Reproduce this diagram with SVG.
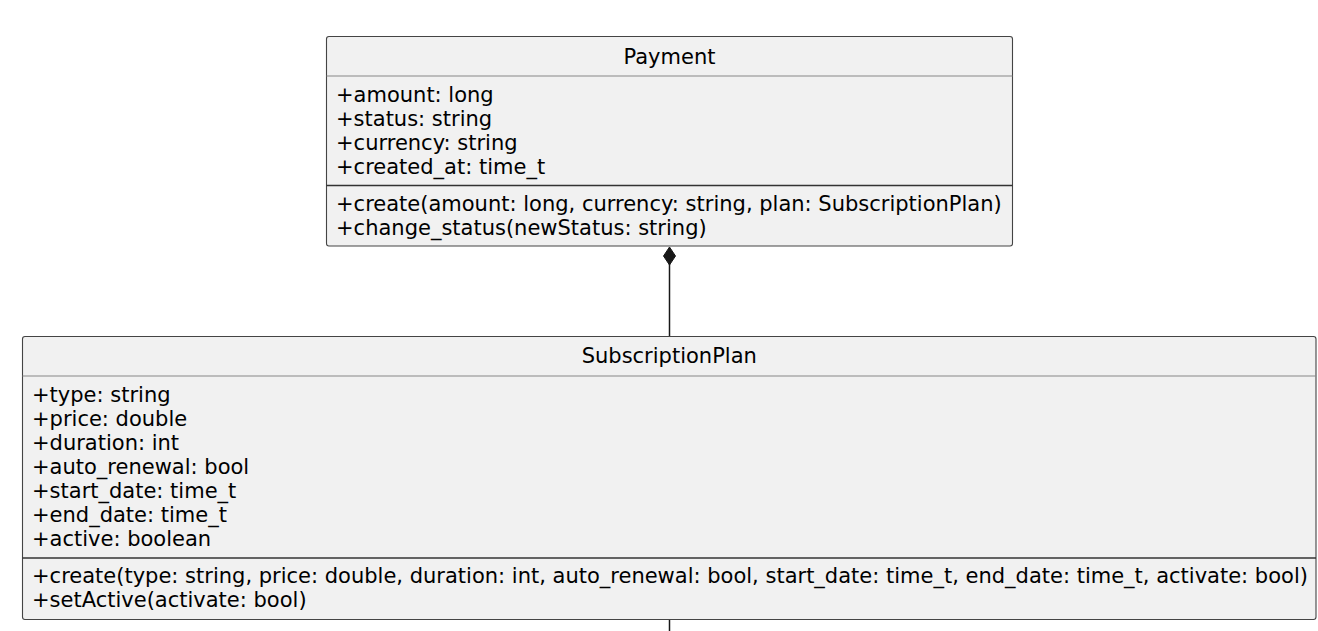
<svg xmlns="http://www.w3.org/2000/svg" width="1318" height="631" viewBox="0 0 1318 631">
<style>
.box{fill:#F1F1F1;stroke:#444;stroke-width:1.1}
.hsep{stroke:#888;stroke-width:1.2}
.msep{stroke:#333;stroke-width:1.3}
.t{font-family:"DejaVu Sans",sans-serif;font-size:21px;fill:#000}
.title{text-anchor:middle}
.edge{stroke:#181818;stroke-width:1.5;fill:none}
</style>
<rect x="0" y="0" width="1318" height="631" fill="#FFFFFF"/>
<g id="connectors">
<line class="edge" x1="669.5" y1="264" x2="669.5" y2="336.5"/>
<polygon points="669.5,247 675.5,256 669.5,265 663.5,256" fill="#181818" stroke="#181818" stroke-width="1"/>
<line class="edge" x1="669.5" y1="619" x2="669.5" y2="631"/>
</g>
<g id="Payment">
<rect class="box" x="326.5" y="36.5" width="686" height="209.5" rx="2.5"/>
<text class="t title" x="669.5" y="63.5">Payment</text>
<line class="hsep" x1="326.5" y1="76" x2="1012.5" y2="76"/>
<text class="t" x="336" y="101.5">+amount: long</text>
<text class="t" x="336" y="125.5">+status: string</text>
<text class="t" x="336" y="149.5">+currency: string</text>
<text class="t" x="336" y="173.5">+created_at: time_t</text>
<line class="msep" x1="326.5" y1="185.5" x2="1012.5" y2="185.5"/>
<text class="t" x="336" y="210.5">+create(amount: long, currency: string, plan: SubscriptionPlan)</text>
<text class="t" x="336" y="234.5">+change_status(newStatus: string)</text>
</g>
<g id="SubscriptionPlan">
<rect class="box" x="22.5" y="336.5" width="1293.5" height="283" rx="2.5"/>
<text class="t title" x="669.25" y="363">SubscriptionPlan</text>
<line class="hsep" x1="22.5" y1="376" x2="1316" y2="376"/>
<text class="t" x="32" y="401.5">+type: string</text>
<text class="t" x="32" y="425.5">+price: double</text>
<text class="t" x="32" y="449.5">+duration: int</text>
<text class="t" x="32" y="473.5">+auto_renewal: bool</text>
<text class="t" x="32" y="497.5">+start_date: time_t</text>
<text class="t" x="32" y="521.5">+end_date: time_t</text>
<text class="t" x="32" y="545.5">+active: boolean</text>
<line class="msep" x1="22.5" y1="558" x2="1316" y2="558"/>
<text class="t" x="32" y="583">+create(type: string, price: double, duration: int, auto_renewal: bool, start_date: time_t, end_date: time_t, activate: bool)</text>
<text class="t" x="32" y="607">+setActive(activate: bool)</text>
</g>
</svg>
